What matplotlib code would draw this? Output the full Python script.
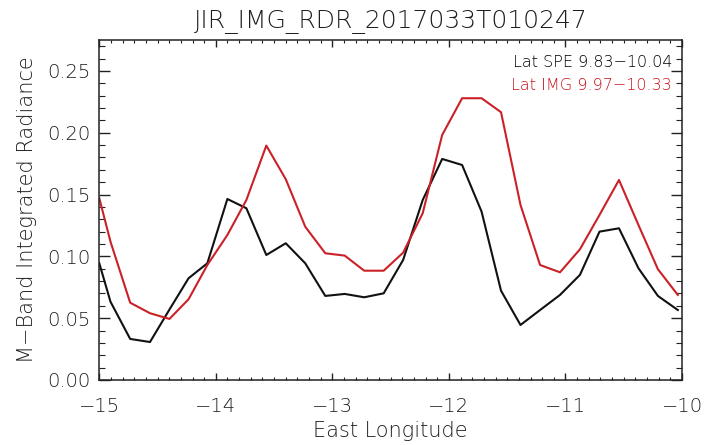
"""JIR M-band integrated radiance vs east longitude"""
import matplotlib
matplotlib.use("Agg")
import matplotlib.pyplot as plt
from matplotlib.ticker import MultipleLocator

# longitudes of the samples
lon = [-15.0, -14.904, -14.735, -14.565, -14.398, -14.234, -14.073, -13.901,
       -13.738, -13.567, -13.400, -13.233, -13.061, -12.894, -12.727, -12.560,
       -12.393, -12.225, -12.058, -11.887, -11.720, -11.553, -11.386, -11.218,
       -11.047, -10.876, -10.708, -10.541, -10.374, -10.207, -10.036]

# Lat SPE 9.83-10.04 (black)
rad_spe = [0.0944, 0.0633, 0.0332, 0.0307, 0.0570, 0.0823, 0.0944, 0.1464,
           0.1389, 0.1011, 0.1106, 0.0944, 0.0680, 0.0696, 0.0669, 0.0701,
           0.0971, 0.1456, 0.1788, 0.1739, 0.1362, 0.0722, 0.0445, 0.0566,
           0.0688, 0.0850, 0.1200, 0.1227, 0.0904, 0.0680, 0.0566]

# Lat IMG 9.97-10.33 (red)
rad_img = [0.1470, 0.1119, 0.0625, 0.0540, 0.0494, 0.0653, 0.0930, 0.1173,
           0.1456, 0.1896, 0.1624, 0.1240, 0.1025, 0.1006, 0.0884, 0.0884,
           0.1030, 0.1349, 0.1982, 0.2279, 0.2279, 0.2166, 0.1416, 0.0930,
           0.0871, 0.1057, 0.1335, 0.1618, 0.1254, 0.0896, 0.0688]

title = "JIR_IMG_RDR_2017033T010247"
label_spe = "Lat SPE 9.83\u221210.04"
label_img = "Lat IMG 9.97\u221210.33"

RED = "#cc2027"
TXT = "#1e1e1e"

# thin strokes, closer to the IDL vector font
plt.rcParams["font.family"] = ["DejaVu Sans"]
plt.rcParams["font.weight"] = "light"
plt.rcParams["axes.labelweight"] = "light"
plt.rcParams["axes.titleweight"] = "light"

fig = plt.figure(figsize=(7.18, 4.45), dpi=100)
ax = fig.add_axes([0.1383, 0.1461, 0.8116, 0.764])

ax.plot(lon, rad_spe, color="#111111", lw=1.5)
ax.plot(lon, rad_img, color=RED, lw=1.5)

ax.set_xlim(-15, -10)
ax.set_ylim(0, 0.275)

ax.xaxis.set_major_locator(MultipleLocator(1))
ax.xaxis.set_minor_locator(MultipleLocator(0.1))
ax.yaxis.set_major_locator(MultipleLocator(0.05))
ax.yaxis.set_minor_locator(MultipleLocator(0.01))
ax.yaxis.set_major_formatter(plt.FuncFormatter(lambda v, p: f"{v:.2f}"))

ax.tick_params(axis="both", which="both", direction="in", top=True, right=True,
               color="#222222", labelcolor=TXT, labelsize=14)
ax.tick_params(axis="x", which="major", length=5, width=1, pad=12)
ax.tick_params(axis="x", which="minor", length=2.5, width=0.8)
ax.tick_params(axis="y", which="major", length=8, width=1, pad=6)
ax.tick_params(axis="y", which="minor", length=4.5, width=0.8)
for s in ax.spines.values():
    s.set_color("#222222")
    s.set_linewidth(1.1)

ax.set_xlabel("East Longitude", fontsize=15, color=TXT, labelpad=4)
ax.set_ylabel("M\u2212Band Integrated Radiance", fontsize=15, color=TXT, labelpad=8)
ax.set_title(title, fontsize=18, color=TXT, pad=9)

ax.text(0.983, 0.935, label_spe, transform=ax.transAxes, ha="right", va="center",
        fontsize=11.5, color="#000000")
ax.text(0.983, 0.865, label_img, transform=ax.transAxes, ha="right", va="center",
        fontsize=11.5, color="#c4141c")

fig.savefig("out.png", dpi=100)
